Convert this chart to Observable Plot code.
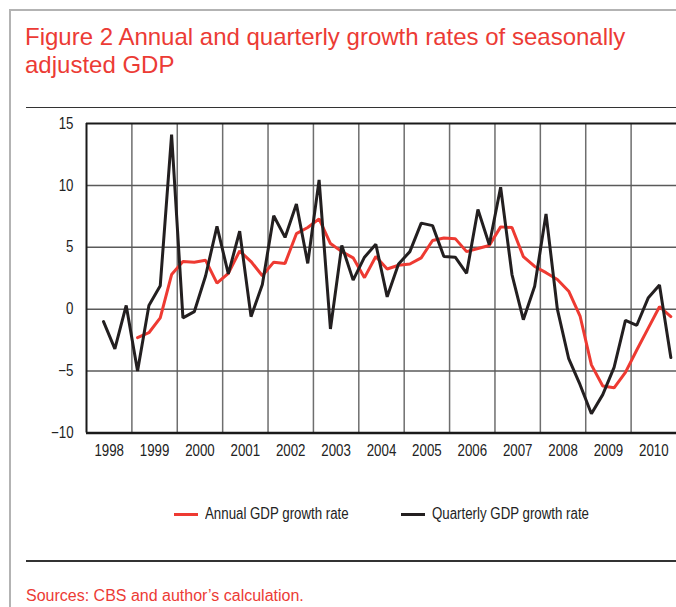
<!DOCTYPE html>
<html>
<head>
<meta charset="utf-8">
<script src="https://cdn.jsdelivr.net/npm/d3@7"></script>
<script src="https://cdn.jsdelivr.net/npm/@observablehq/plot@0.6"></script>
<style>
  html, body { margin: 0; padding: 0; background: #fff; }
  #page { position: relative; width: 676px; height: 607px; overflow: hidden; font-family: "Liberation Sans", Arial, sans-serif; }
  .frame-top { position: absolute; left: 10px; top: 9px; width: 700px; height: 2px; background: #b3b3b3; }
  .frame-left { position: absolute; left: 9px; top: 9px; width: 2px; height: 620px; background: #b3b3b3; }
  #title { position: absolute; left: 25px; top: 23px; width: 640px; font-size: 24px; line-height: 28px; color: #ec3b35; font-weight: 400; }
  .rule { position: absolute; left: 26px; width: 660px; height: 1.5px; background: #333; }
  #chart { position: absolute; left: 0; top: 100px; }
  #legend { position: absolute; top: 505px; left: 0; width: 676px; height: 20px; font-family: "Liberation Sans Narrow", "Liberation Sans", sans-serif; font-size: 16px; line-height: 18px; color: #222; }
  .item { position: absolute; top: 0; display: flex; align-items: center; white-space: nowrap; }
  .sw { width: 24px; height: 3px; margin-right: 7px; }
  .lab { display: inline-block; transform: scaleX(0.83); transform-origin: 0 50%; }
  #source { position: absolute; left: 26px; top: 587px; font-size: 16px; line-height: 18px; color: #ec3b35; }
</style>
</head>
<body>
<div id="page">
  <div class="frame-top"></div>
  <div class="frame-left"></div>
  <div id="title">Figure 2 Annual and quarterly growth rates of seasonally<br>adjusted GDP</div>
  <div class="rule" style="top:106.5px"></div>
  <div id="chart"></div>
  <div id="legend">
    <div class="item" style="left:174px"><div class="sw" style="background:#ee3a32"></div><span class="lab">Annual GDP growth rate</span></div>
    <div class="item" style="left:401px"><div class="sw" style="background:#231f20"></div><span class="lab">Quarterly GDP growth rate</span></div>
  </div>
  <div class="rule" style="top:560px"></div>
  <div id="source">Sources: CBS and author’s calculation.</div>
</div>
<script>
// Tick labels
const yearLabels = ["1998","1999","2000","2001","2002","2003","2004","2005","2006","2007","2008","2009","2010"];
const yTicks = [-10, -5, 0, 5, 10, 15];

// Quarterly GDP growth rate, from 1998 Q2 to 2010 Q4
const quarterlyStart = {year: 1998, quarter: 2};
const quarterlyValues = [
  -1.0, -3.2, 0.3,
  -5.0, 0.3, 1.9, 14.1,
  -0.7, -0.2, 2.7, 6.7,
  2.85, 6.3, -0.6, 2.0,
  7.55, 5.8, 8.5, 3.7,
  10.45, -1.6, 5.15, 2.35,
  4.2, 5.25, 1.0, 3.65,
  4.65, 6.95, 6.75, 4.25,
  4.2, 2.9, 8.05, 5.2,
  9.85, 2.8, -0.85, 1.85,
  7.7, 0.0, -4.0, -6.1,
  -8.45, -6.9, -4.7, -0.9,
  -1.3, 0.9, 1.95, -3.9
];

// Annual GDP growth rate, from 1999 Q1 to 2010 Q4
const annualStart = {year: 1999, quarter: 1};
const annualValues = [
  -2.3, -1.9, -0.7, 2.8,
  3.85, 3.8, 3.95, 2.1,
  2.9, 4.7, 3.85, 2.7,
  3.8, 3.7, 6.1, 6.6,
  7.3, 5.3, 4.65, 4.15,
  2.55, 4.25, 3.25, 3.55,
  3.65, 4.15, 5.55, 5.75,
  5.7, 4.65, 4.9, 5.15,
  6.65, 6.6, 4.25, 3.45,
  2.95, 2.4, 1.45, -0.55,
  -4.5, -6.2, -6.35, -5.1,
  -3.3, -1.55, 0.2, -0.6
];

const toRows = (start, values) => values.map((v, k) => ({
  t: start.year + (start.quarter - 1 + k + 0.5) / 4,
  v
}));
const quarterly = toRows(quarterlyStart, quarterlyValues);
const annual = toRows(annualStart, annualValues);

const years = yearLabels.map(Number);
const boundaries = years.slice(1);

const chart = Plot.plot({
  width: 676,
  height: 370,
  marginTop: 23,
  marginBottom: 37.5,
  marginLeft: 86,
  marginRight: 0,
  x: {domain: [1998, 2011], axis: null},
  y: {domain: [-10, 15], axis: null},
  style: {fontFamily: "'Liberation Sans Narrow', 'Liberation Sans', sans-serif", fontSize: "16px", color: "#222", background: "transparent", overflow: "visible"},
  marks: [
    Plot.gridX(boundaries, {stroke: "#6e6e6e", strokeOpacity: 1, strokeWidth: 1.5}),
    Plot.gridY([-5, 0, 5, 10], {stroke: "#5a5a5a", strokeOpacity: 1, strokeWidth: 1.5}),
    Plot.ruleY([15], {stroke: "#1a1a1a", strokeWidth: 2}),
    Plot.ruleY([-10], {stroke: "#1a1a1a", strokeWidth: 2.5}),
    Plot.ruleX([1998], {stroke: "#1a1a1a", strokeWidth: 2}),
    Plot.axisY({ticks: yTicks, tickSize: 0, tickPadding: 13, label: null, fill: "#222"}),
    Plot.axisX({ticks: years.map(y => y + 0.5), tickFormat: d => yearLabels[Math.floor(d) - years[0]], tickSize: 0, tickPadding: 12, label: null, fill: "#222"}),
    Plot.line(annual, {x: "t", y: "v", stroke: "#ee3a32", strokeWidth: 3, strokeLinejoin: "miter"}),
    Plot.line(quarterly, {x: "t", y: "v", stroke: "#231f20", strokeWidth: 3, strokeLinejoin: "miter"})
  ]
});
document.getElementById("chart").appendChild(chart);

// Condense tick labels to mimic the narrow typeface of the original
chart.querySelectorAll("text").forEach(t => {
  const len = t.getComputedTextLength();
  if (len > 0) {
    t.setAttribute("textLength", (len * 0.83).toFixed(2));
    t.setAttribute("lengthAdjust", "spacingAndGlyphs");
  }
});
</script>
</body>
</html>
